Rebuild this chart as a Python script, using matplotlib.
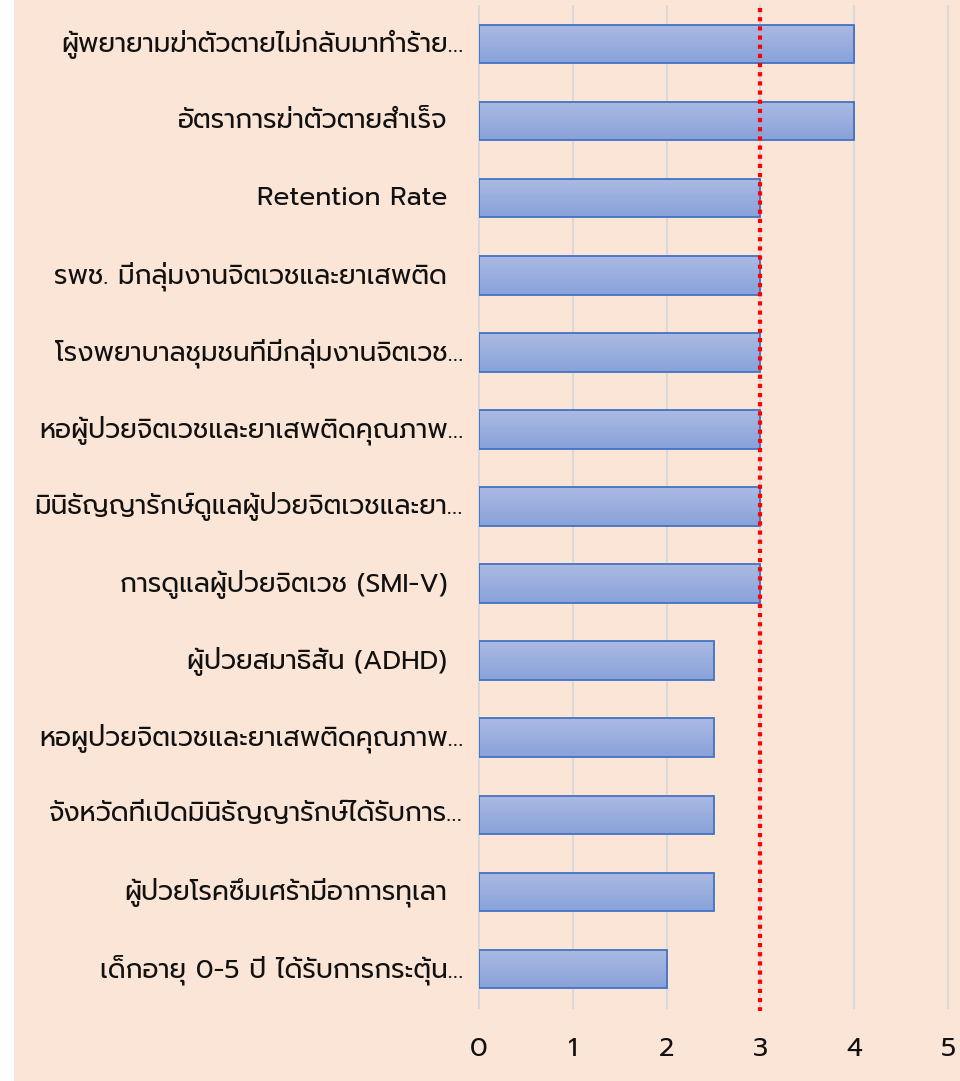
import matplotlib
matplotlib.use('Agg')
import matplotlib.pyplot as plt
from matplotlib.patches import Rectangle
from matplotlib.transforms import ScaledTranslation
import numpy as np

plt.rcParams['font.family'] = ['Prompt', 'DejaVu Sans']

# data, top to bottom
labels = ['ผู้พยายามฆ่าตัวตายไม่กลับมาทำร้าย…',
          'อัตราการฆ่าตัวตายสำเร็จ',
          'Retention Rate',
          'รพช. มีกลุ่มงานจิตเวชและยาเสพติด',
          'โรงพยาบาลชุมชนที่มีกลุ่มงานจิตเวช…',
          'หอผู้ป่วยจิตเวชและยาเสพติดคุณภาพ…',
          'มินิธัญญารักษ์ดูแลผู้ป่วยจิตเวชและยา…',
          'การดูแลผู้ป่วยจิตเวช (SMI-V)',
          'ผู้ป่วยสมาธิสั้น (ADHD)',
          'หอผูป่วยจิตเวชและยาเสพติดคุณภาพ…',
          'จังหวัดที่เปิดมินิธัญญารักษ์ได้รับการ…',
          'ผู้ป่วยโรคซึมเศร้ามีอาการทุเลา',
          'เด็กอายุ 0-5 ปี ได้รับการกระตุ้น…']
values = [4, 4, 3, 3, 3, 3, 3, 3, 2.5, 2.5, 2.5, 2.5, 2]
target = 3
xticks = [0, 1, 2, 3, 4, 5]

W, H = 960, 1081
fig = plt.figure(figsize=(W / 100, H / 100), dpi=100, facecolor='white')
fig.patches.append(Rectangle((14 / W, 0), 1 - 14 / W, 1, transform=fig.transFigure,
                             facecolor='#FBE5D6', edgecolor='none', zorder=-10))

ax = fig.add_axes([479 / W, 1 - 1007.5 / H, (948 - 479) / W, (1007.5 - 5.5) / H])
ax.set_facecolor('none')

y = np.arange(len(labels))
bars = ax.barh(y, values, height=0.5, facecolor='none', edgecolor='#4472C4',
               linewidth=1.3, zorder=3)

# vertical gradient fill for each bar
grad = np.linspace(0, 1, 64).reshape(-1, 1)
cmap = matplotlib.colors.LinearSegmentedColormap.from_list('g', ['#ABBAE3', '#89A2DA'])
for b in bars:
    x0, y0 = b.get_x(), b.get_y()
    im = ax.imshow(grad, cmap=cmap, aspect='auto', zorder=2,
                   extent=[x0, x0 + b.get_width(), y0 + b.get_height(), y0])
    im.set_clip_path(b)

ax.plot([target, target], [-0.47, len(labels) - 0.46], color='#FF0000', linewidth=3,
        linestyle=(0, (1, 1.2)), dash_capstyle='butt', zorder=4, clip_on=False)

ax.set_xlim(0, 5)
ax.set_ylim(len(labels) - 0.5, -0.5)
ax.set_xticks(xticks)
ax.set_xticklabels([str(t) for t in xticks])
ax.set_yticks(y)
ax.set_yticklabels(labels)
ax.xaxis.grid(True, color='#D9D9D9', linewidth=1.5, zorder=0)
for gl in ax.get_xgridlines():
    gl.set_clip_on(False)
ax.set_axisbelow(True)
for s in ax.spines.values():
    s.set_visible(False)
ax.tick_params(axis='both', length=0, labelsize=19, labelcolor='#111111')
ax.tick_params(axis='x', pad=21)
shift = ScaledTranslation(0, 3 / 100, fig.dpi_scale_trans)
for lab, tick in zip(labels, ax.yaxis.get_major_ticks()):
    tick.set_pad(11.5 if lab.endswith('…') else 23)
    tick.label1.set_transform(tick.label1.get_transform() + shift)

fig.savefig('out.png', dpi=100, facecolor=fig.get_facecolor())
